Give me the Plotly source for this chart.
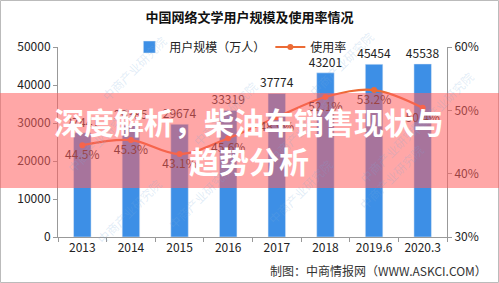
import plotly.graph_objects as go

categories = ["2013", "2014", "2015", "2016", "2017", "2018", "2019.6", "2020.3"]
users = [27441, 29385, 29674, 33319, 37774, 43201, 45454, 45538]
rate = [44.5, 45.3, 43.1, 45.6, 48.9, 52.1, 53.2, 50.4]
left_ticks = [0, 10000, 20000, 30000, 40000, 50000]
right_ticks = [30, 40, 50, 60]

FONT = "Noto Sans CJK SC"

# plot area in pixels
L, R, T, B = 58, 447, 47, 237


def px(x):
    return (x - L) / (R - L)


def py(y):
    return (B - y) / (B - T)


fig = go.Figure()
fig.add_trace(go.Bar(
    x=categories, y=users, name="用户规模（万人）",
    marker=dict(color="#3d8fe6"), width=0.36,
    text=[str(v) for v in users], textposition="outside", constraintext="none",
    textfont=dict(size=12, color="#222", family=FONT),
    cliponaxis=False,
))
fig.add_trace(go.Scatter(
    x=categories, y=rate, name="使用率", yaxis="y2",
    mode="lines+markers+text", line=dict(color="#ec6b35", width=2.2, shape="spline"),
    marker=dict(size=6, color="#ec6b35"),
    text=[f"{v}%" for v in rate], textposition="bottom center",
    textfont=dict(size=12, color="#222", family=FONT),
    cliponaxis=False,
))

fig.update_layout(
    width=499, height=283,
    margin=dict(l=L, r=499 - R, t=T, b=283 - B),
    paper_bgcolor="white", plot_bgcolor="white",
    font=dict(family=FONT, size=12, color="#222"),
    showlegend=True,
    legend=dict(orientation="h", x=0.47, xanchor="center", y=1.0, yanchor="middle",
                font=dict(size=12, family=FONT), bgcolor="rgba(0,0,0,0)",
                itemwidth=30, tracegroupgap=0),
    title=dict(text="<b>中国网络文学用户规模及使用率情况</b>", x=0.5, xanchor="center",
               y=1 - 17 / 283, yanchor="middle", font=dict(size=13, family=FONT, color="#111")),
    xaxis=dict(type="category", showline=True, linecolor="#999", ticks="outside",
               tickcolor="#999", ticklen=4, tickson="boundaries",
               tickfont=dict(size=12), showgrid=False),
    yaxis=dict(range=[0, 50000], tickvals=left_ticks, ticktext=[str(v) for v in left_ticks],
               showline=True, linecolor="#999", ticks="outside", tickcolor="#999", ticklen=4,
               showgrid=False, zeroline=False, tickfont=dict(size=12)),
    yaxis2=dict(range=[30, 60], tickvals=right_ticks, ticktext=[f"{v}%" for v in right_ticks],
                overlaying="y", side="right", showline=True, linecolor="#999",
                ticks="outside", tickcolor="#999", ticklen=4, showgrid=False,
                zeroline=False, tickfont=dict(size=12)),
)

# watermarks
for (wx, wy) in [(95, 30), (225, 75), (380, 25), (480, 65), (60, 140), (300, 130),
                 (430, 150), (90, 250), (200, 235), (300, 230), (430, 215)]:
    fig.add_annotation(x=px(wx), y=py(wy), xref="paper", yref="paper",
                       text="中商产业研究院", showarrow=False, textangle=-45,
                       font=dict(size=12, color="rgba(120,170,220,0.22)", family=FONT))

# border
fig.add_shape(type="rect", xref="paper", yref="paper",
              x0=px(0.5), x1=px(498.5), y0=py(282.5), y1=py(0.5),
              line=dict(color="#bbb", width=1), layer="below")

fig.add_annotation(x=px(489), y=py(270), xref="paper", yref="paper",
                   text="制图：中商情报网（WWW.ASKCI.COM）", showarrow=False,
                   xanchor="right", yanchor="middle",
                   font=dict(size=12, color="#333", family=FONT))

# overlay banner
fig.add_shape(type="rect", xref="paper", yref="paper",
              x0=px(0), x1=px(499), y0=py(188), y1=py(93),
              fillcolor="rgba(255,95,95,0.55)", line=dict(width=0), layer="above")
fig.add_annotation(x=px(249), y=py(140), xref="paper", yref="paper",
                   text="<b>深度解析，柴油车销售现状与<br>趋势分析</b>", showarrow=False,
                   align="center", xanchor="center", yanchor="middle",
                   font=dict(size=30, color="white", family=FONT))

fig.write_html("out.html")
